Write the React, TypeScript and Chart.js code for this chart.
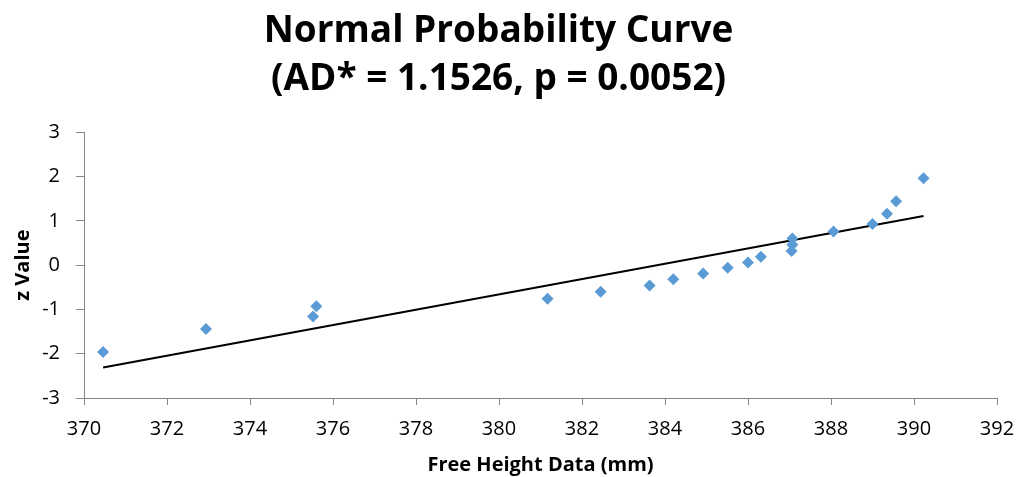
import React, { useEffect, useRef } from "react";
import { Chart, registerables } from "chart.js";

Chart.register(...registerables);

const titleLines = ["Normal Probability Curve", "(AD* = 1.1526, p = 0.0052)"];
const xAxisTitle = "Free Height Data (mm)";
const yAxisTitle = "z Value";

const freeHeight = [370.46, 372.94, 375.52, 375.6, 381.17, 382.45, 383.63, 384.2, 384.92, 385.51, 386.0, 386.31, 387.05, 387.07, 387.07, 388.06, 389.0, 389.35, 389.57, 390.23];
const zValue = [-1.96, -1.44, -1.16, -0.93, -0.76, -0.6, -0.46, -0.32, -0.19, -0.06, 0.06, 0.19, 0.32, 0.46, 0.6, 0.76, 0.93, 1.16, 1.44, 1.96];

const fitX = [370.46, 390.23];
const fitZ = [-2.31, 1.106];

const xMin = 370, xMax = 392, xStep = 2;
const yMin = -3, yMax = 3, yStep = 1;

export default function App() {
  const ref = useRef<HTMLCanvasElement>(null);
  useEffect(() => {
    if (!ref.current) return;
    const FONT = "'Open Sans', sans-serif";
    const axisColor = "#868686";
    const chart = new Chart(ref.current, {
      type: "scatter",
      data: {
        datasets: [
          {
            label: "Data",
            data: freeHeight.map((x, i) => ({ x, y: zValue[i] })),
            pointStyle: "rectRot",
            pointRadius: 6,
            pointBorderWidth: 0,
            backgroundColor: "#5B9BD5",
            borderColor: "#5B9BD5",
            showLine: false,
          },
          {
            label: "Fit",
            data: fitX.map((x, i) => ({ x, y: fitZ[i] })),
            showLine: true,
            borderColor: "#000000",
            borderWidth: 2,
            pointRadius: 0,
            fill: false,
          },
        ],
      },
      options: {
        responsive: false,
        animation: false,
        layout: { padding: { left: 0, right: 33, top: 0, bottom: 0 } },
        plugins: {
          legend: { display: false },
          tooltip: { enabled: false },
          title: {
            display: true,
            text: titleLines,
            color: "#000",
            font: { family: FONT, size: 37, weight: "bold", lineHeight: 1.3 },
            padding: { top: 7, bottom: 29 },
          },
        },
        scales: {
          x: {
            type: "linear",
            min: xMin,
            max: xMax,
            afterFit: (s: any) => { s.height = 79; },
            ticks: { stepSize: xStep, color: "#000", font: { family: FONT, size: 20 }, padding: 12 },
            grid: { drawOnChartArea: false, drawTicks: true, tickLength: 7, color: axisColor },
            border: { display: true, color: axisColor, width: 1 },
            title: {
              display: true,
              text: xAxisTitle,
              color: "#000",
              font: { family: FONT, size: 20, weight: "bold" },
              padding: { top: 1, bottom: 0 },
            },
          },
          y: {
            type: "linear",
            min: yMin,
            max: yMax,
            afterFit: (s: any) => { s.width = 84; },
            ticks: { stepSize: yStep, color: "#000", font: { family: FONT, size: 20 }, padding: 16 },
            grid: { drawOnChartArea: false, drawTicks: true, tickLength: 8, color: axisColor },
            border: { display: true, color: axisColor, width: 1 },
            title: {
              display: true,
              text: yAxisTitle,
              color: "#000",
              font: { family: FONT, size: 20, weight: "bold" },
              padding: { top: 11, bottom: 0 },
            },
          },
        },
      },
    });
    return () => chart.destroy();
  }, []);
  return (
    <div style={{ position: "fixed", left: 0, top: 0, width: 1030, height: 477, background: "#fff" }}>
      <canvas ref={ref} width={1030} height={477} />
    </div>
  );
}
